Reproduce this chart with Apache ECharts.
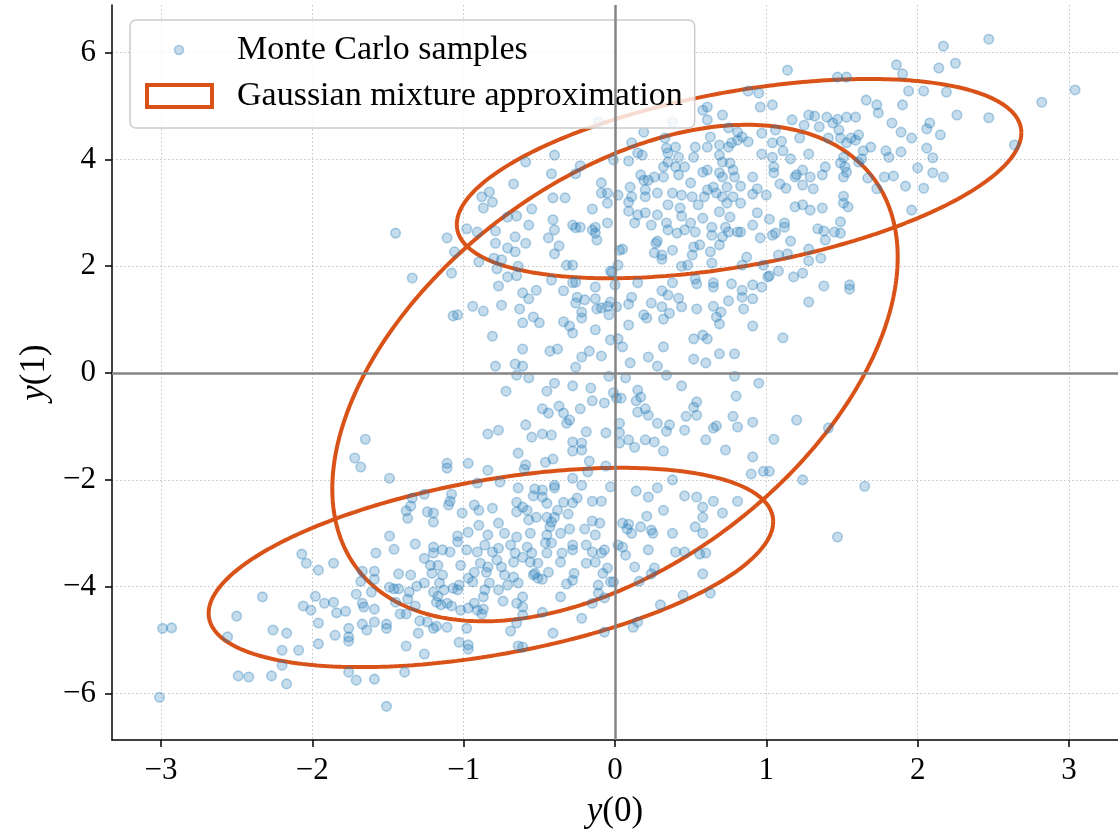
<!DOCTYPE html>
<html>
<head>
<meta charset="utf-8">
<script src="https://cdn.jsdelivr.net/npm/echarts@6/dist/echarts.min.js"></script>
<style>
  html, body { margin: 0; padding: 0; background: #ffffff; }
  #chart { width: 1118px; height: 837px; }
</style>
</head>
<body>
<div id="chart"></div>
<script>
// Monte Carlo samples [y(0), y(1)]
const samples = [
  [-3.01,-6.07],[-2.99,-4.78],[-2.93,-4.77],[-2.50,-4.55],[-2.56,-4.94],[-2.33,-4.19],[-2.49,-5.67],[-2.42,-5.69],[-2.27,-5.67],[-2.17,-5.82],
  [-2.26,-4.81],[-2.17,-4.87],[-2.20,-5.19],[-2.09,-5.19],[-2.20,-5.47],[-2.07,-3.39],[-2.04,-3.56],[-2.06,-4.36],[-2.01,-4.44],[-1.98,-4.18],
  [-1.96,-3.69],[-1.86,-3.56],[-1.92,-4.31],[-1.86,-4.29],[-1.84,-4.49],[-1.78,-4.46],[-1.96,-4.68],[-1.96,-5.07],[-1.85,-4.91],[-1.76,-4.78],
  [-1.76,-4.94],[-1.76,-5.02],[-1.76,-5.60],[-1.71,-5.75],[-1.59,-5.73],[-1.51,-6.24],[-1.39,-5.60],[-1.26,-5.26],[-1.38,-5.11],[-1.30,-4.87],
  [-1.67,-4.70],[-1.64,-4.81],[-1.59,-4.66],[-1.51,-4.70],[-1.51,-4.78],[-1.67,-4.31],[-1.66,-4.38],[-1.59,-4.42],[-1.71,-4.14],[-1.61,-4.10],
  [-1.68,-3.90],[-1.67,-3.71],[-1.59,-3.71],[-1.59,-3.86],[-1.58,-3.37],[-1.46,-3.30],[-1.32,-3.20],[-1.43,-3.76],[-1.35,-3.78],[-1.49,-4.01],
  [-1.46,-4.04],[-1.43,-4.04],[-1.36,-4.10],[-1.37,-4.23],[-1.45,-4.29],[-1.42,-4.51],[-1.38,-4.51],[-1.32,-4.36],[-1.31,-3.99],[-1.26,-3.93],
  [-1.29,-4.64],[-1.24,-4.66],[-1.20,-4.78],[-1.26,-3.47],[-1.22,-3.60],[-1.20,-3.26],[-1.20,-3.37],[-1.21,-3.75],[-1.17,-3.60],[-1.14,-3.78],
  [-1.16,-3.93],[-1.20,-4.10],[-1.17,-4.18],[-1.15,-4.34],[-1.18,-4.29],[-1.11,-4.31],[-1.08,-4.36],[-1.13,-4.06],[-1.07,-4.03],[-1.11,-4.76],
  [-1.18,-4.74],[-1.14,-3.31],[-1.09,-3.35],
  [-1.04,-3.16],[-0.98,-3.31],[-1.02,-3.60],[-0.97,-3.84],[-0.94,-3.91],[-1.03,-3.97],[-1.04,-4.06],[-0.93,-3.73],[-0.89,-3.56],[-0.91,-3.35],
  [-0.86,-3.22],[-0.81,-3.35],[-0.84,-3.63],[-0.85,-3.73],[-0.83,-3.93],[-0.86,-4.06],[-0.87,-4.19],[-0.93,-4.31],[-0.97,-4.40],[-1.02,-4.44],
  [-0.91,-4.44],[-0.87,-4.42],[-0.88,-4.51],[-0.98,-4.78],[-1.03,-5.04],[-0.97,-5.09],[-0.97,-5.17],[-0.77,-4.06],[-0.74,-4.27],[-0.77,-3.28],
  [-0.78,-3.50],[-0.75,-3.63],[-0.73,-3.78],[-0.71,-3.97],[-0.67,-3.82],[-0.64,-3.93],[-0.69,-3.22],[-0.66,-3.37],[-0.67,-3.54],[-0.61,-3.45],
  [-0.58,-3.26],[-0.55,-3.37],[-0.56,-3.54],[-0.51,-3.56],[-0.53,-3.75],[-0.54,-3.78],[-0.51,-3.84],[-0.48,-3.86],[-0.61,-4.19],[-0.65,-4.31],
  [-0.61,-4.38],[-0.61,-4.53],[-0.65,-4.68],[-0.69,-4.83],[-0.64,-5.11],[-0.61,-5.13],[-0.48,-4.48],[-0.41,-4.87],[-0.44,-3.73],[-0.45,-3.37],
  [-0.42,-3.18],[-0.46,-3.18],[-0.36,-3.54],[-0.35,-3.37],[-0.36,-4.19],[-0.32,-3.95],[-0.28,-3.88],[-0.27,-3.75],[-0.28,-3.22],[-0.28,-3.31],
  [-0.22,-4.59],[-0.19,-3.56],[-0.19,-3.22],[-0.15,-3.35],[-0.13,-3.54],[-0.09,-3.37],[-0.07,-3.31],[-0.08,-3.75],[-0.05,-3.65],[-0.11,-3.97],
  [-0.11,-4.12],[-0.15,-4.31],[-0.07,-4.21],[-0.03,-3.91],[-0.01,-3.91],[-0.07,-4.85],[0.05,-3.26],[0.07,-3.41],[0.02,-3.22],[0.22,-3.31],
  [0.13,-3.63],[0.16,-3.90],[0.26,-3.65],[0.24,-3.76],[0.30,-4.34],[0.15,-4.66],[0.12,-4.76],[0.40,-3.35],[0.46,-3.35],[0.45,-4.16],
  [0.56,-3.39],[0.60,-3.37],[0.58,-3.76],[0.63,-4.12],
  [-0.65,-0.04],[-0.57,-0.09],[-0.40,-0.19],[-0.28,-0.24],[-0.72,-0.34],[-0.45,-0.34],[-0.16,-0.28],[-0.04,-0.06],[0.07,-0.09],[-0.15,-0.52],
  [-0.07,-0.56],[-0.01,-0.37],[0.01,-0.47],[0.04,-0.47],[0.15,-0.32],[0.17,-0.45],[0.14,-0.52],[0.34,-0.04],[0.44,-0.24],[0.79,-0.06],
  [0.95,-0.19],[0.80,-0.43],[0.54,-0.54],[0.52,-0.64],[0.54,-0.79],[0.47,-0.81],[0.78,-0.81],[0.91,-0.92],[0.81,-1.01],[0.67,-0.99],
  [0.65,-1.03],[0.60,-1.25],[0.73,-1.44],[0.91,-1.57],[0.98,-1.84],[0.90,-1.89],[0.46,-1.07],[0.34,-1.09],[0.36,-0.97],[0.28,-0.94],
  [0.15,-0.73],[0.20,-0.67],[0.22,-0.79],[0.26,-1.29],[0.32,-1.46],[0.20,-1.25],[0.13,-1.39],[0.09,-1.25],[0.03,-0.94],[0.03,-1.12],
  [0.03,-1.31],[-0.06,-1.12],[-0.19,-1.10],[-0.22,-1.44],[-0.28,-1.29],[-0.22,-1.31],[-0.28,-1.46],[-0.17,-1.65],[-0.41,-1.61],[-0.46,-1.67],
  [-0.42,-1.16],[-0.48,-1.14],[-0.55,-1.20],[-0.59,-0.97],[-0.64,-1.50],[-0.59,-1.72],[-0.60,-1.80],[-0.84,-1.14],[-0.77,-1.07],[-0.97,-1.69],
  [-0.84,-1.82],[-0.76,-2.04],[-0.91,-2.06],[-0.48,-0.67],[-0.44,-0.75],[-0.37,-0.62],[-0.34,-0.75],[-0.32,-0.94],[-0.30,-0.88],[-0.23,-0.67],
  [-0.06,-1.74],[-0.18,-1.85],[-0.28,-1.97],[-0.40,-2.10],[-0.22,-2.10],[-0.03,-2.13],[0.14,-2.21],[0.22,-2.32],[0.28,-2.15],[0.38,-2.00],
  [0.46,-2.30],[0.54,-2.32],[0.58,-2.51],[0.58,-2.70],[0.65,-2.40],[0.71,-2.62],[0.81,-2.40],[0.32,-2.57],[0.21,-2.68],[0.17,-2.88],
  [0.09,-2.83],[0.05,-2.81],[0.08,-2.92],[0.11,-3.00],[0.24,-2.94],[0.25,-3.00],[0.38,-3.00],[0.53,-2.88],[0.58,-3.00],[-0.10,-2.81],
  [-0.15,-2.77],[-0.20,-2.92],[-0.13,-3.03],[-0.09,-2.40],[-0.15,-2.40],[-0.25,-2.34],[-0.28,-2.43],[-0.31,-2.64],[-0.34,-2.42],[-0.40,-2.70],
  [-0.42,-2.79],[-0.43,-2.88],[-0.45,-3.03],[-0.36,-3.00],[-0.30,-2.92],[-0.38,-2.57],[-0.45,-2.70],[-0.45,-2.44],[-0.48,-2.32],[-0.54,-2.30],
  [-0.53,-2.17],[-0.48,-2.19],[-0.40,-2.15],[-0.52,-2.70],[-0.57,-2.75],[-0.58,-2.57],[-0.61,-2.51],[-0.65,-2.42],[-0.65,-2.60],[-0.64,-2.15],
  [-0.77,-2.81],[-0.81,-2.53],[-0.90,-2.57],[-0.93,-2.47],[-0.90,-2.85],[-1.01,-2.62],[-0.97,-2.98],[-0.84,-3.03],[-0.73,-3.00],[-0.65,-3.07],
  [-0.56,-3.00],[-1.04,-3.05],
  [-1.65,-1.24],[-1.72,-1.59],[-1.68,-1.76],[-1.49,-1.97],[-1.11,-1.69],[-1.11,-1.78],[-1.26,-2.27],[-1.35,-2.49],[-1.38,-2.58],[-1.37,-2.72],
  [-1.24,-2.60],[-1.20,-2.62],[-1.20,-2.79],[-1.08,-2.27],[-1.09,-2.40],[-1.10,-2.47],[-1.49,-3.05],[-1.34,-2.34],
  [1.20,-0.88],[1.05,-1.24],[1.41,-1.03],[1.02,-1.84],[1.24,-2.00],[1.65,-2.12],[1.47,-3.07],
  [-0.87,3.09],[-0.81,3.20],[-0.55,3.07],[-0.65,2.94],[-0.71,2.92],[-0.98,2.70],[-0.91,2.64],[-0.79,2.66],[-0.79,2.43],[-0.71,2.34],
  [-0.66,2.27],[-0.59,2.43],[-0.57,2.77],[-0.66,2.55],[-0.90,2.08],[-0.80,2.15],[-0.75,2.12],[-0.64,2.00],[-0.78,1.95],[-0.71,1.80],
  [-0.65,1.82],[-0.77,1.63],[-0.61,1.50],[-0.57,1.39],[-0.52,1.55],[-0.94,1.25],[-0.87,1.16],[-0.75,1.27],[-1.04,1.09],[-0.63,1.20],
  [-0.54,1.05],[-0.61,0.94],[-0.50,0.94],[-0.81,0.69],[-0.61,0.45],[-0.79,0.13],[-0.66,0.17],[-0.61,0.13],[-0.43,0.41],[-0.38,0.45],
  [-0.34,0.96],[-0.30,0.88],[-0.28,0.75],[-0.22,0.30],[-0.17,0.41],[-0.09,0.32],[-0.26,0.11],[-0.13,0.81],[-0.22,1.03],[-0.22,1.14],
  [-0.26,1.31],[-0.25,1.42],[-0.20,1.37],[-0.13,1.39],[-0.12,1.20],[-0.09,1.22],[-0.05,1.25],[-0.04,1.09],[-0.03,1.33],[-0.03,0.62],
  [0.02,0.64],[0.05,0.49],[0.10,0.19],[0.09,0.90],[0.01,1.24],[0.09,1.29],[0.11,1.42],[0.19,1.09],[0.21,1.03],[0.24,1.31],
  [0.31,1.24],[0.36,1.12],[0.32,1.01],[0.42,1.40],[0.44,1.24],[0.32,0.49],[0.22,0.30],[0.28,0.13],[0.54,1.20],[0.65,1.25],
  [0.70,1.14],[0.67,1.05],[0.69,0.92],[0.75,1.35],[0.84,1.42],[0.85,1.20],[0.91,1.39],[0.91,0.88],[0.58,0.71],[0.52,0.64],
  [0.61,0.64],[0.69,0.36],[0.79,0.36],[0.52,0.26],[0.60,0.19],[0.38,1.69],[0.31,1.54],[0.35,1.46],[0.15,1.69],[-0.02,1.89],
  [0.00,1.65],[0.54,1.67],[0.53,1.76],[0.65,1.61],[0.65,1.69],[0.77,1.67],[0.84,1.55],[0.91,1.65],[1.01,1.80],[0.97,1.61],
  [0.03,2.30],[0.02,2.02],[-0.03,1.91],[-0.28,1.69],[-0.42,1.74],[-0.34,1.54],[-0.26,1.70],[-0.13,1.61],[-0.32,2.02],[-0.28,2.02],
  [-0.40,2.23],[-0.37,2.38],[-0.44,2.53],[-0.40,2.68],[-0.41,2.87],[-0.28,2.77],[-0.26,2.72],[-0.23,2.73],[-0.15,2.68],[-0.13,2.73],
  [-0.12,2.49],[-0.13,2.62],[-0.15,3.07],[-0.05,2.81],[-0.05,3.18],[0.05,2.32],[0.09,3.03],[0.09,3.20],[0.13,2.81],[0.15,2.96],
  [0.20,3.00],[0.24,2.77],[0.28,2.96],[0.27,2.43],[0.28,2.47],[0.26,2.25],[0.31,2.21],[0.31,2.13],[0.34,2.81],[0.35,2.68],
  [0.38,2.30],[0.41,2.62],[0.44,2.94],[0.43,3.09],[0.35,3.15],[0.50,2.81],[0.46,2.68],[0.53,2.64],[0.52,2.36],[0.56,2.40],
  [0.51,2.21],[0.44,2.00],[0.48,2.02],[0.58,2.90],[0.55,3.15],[0.64,2.73],[0.64,2.58],[0.63,2.27],[0.69,2.40],[0.64,2.06],
  [0.71,2.55],[0.73,2.73],[0.75,2.64],[0.81,2.64],[0.83,2.64],[0.76,2.92],[0.69,3.02],[0.83,3.18],[0.74,3.18],[0.91,2.77],
  [0.94,3.00],[0.96,2.53],[0.87,2.17],[0.84,2.02],[0.98,2.02],
  [1.19,3.11],[1.24,3.15],[1.29,3.05],[1.37,3.09],[1.51,3.18],[1.54,3.11],[1.96,3.05],[1.12,2.81],[1.12,2.73],[1.06,2.62],
  [1.04,2.58],[1.34,2.70],[1.38,2.66],[1.45,2.64],[1.49,2.62],[1.49,2.83],[1.16,2.47],[1.39,2.49],[1.28,2.32],[1.08,2.21],
  [1.14,2.23],[1.28,2.10],[1.36,2.15],[1.08,1.91],[1.02,1.82],[1.18,1.80],[1.24,1.87],[1.38,1.63],[1.55,1.65],[1.55,1.57],
  [1.28,1.33],[1.11,0.66],[1.02,2.88],
  [-1.45,2.62],[-1.34,1.78],[-1.11,2.53],[-1.06,2.27],[-1.08,1.87],[-1.07,1.07],
  [0.38,4.70],[0.19,4.51],[-0.11,4.70],[-0.40,4.08],[-0.59,3.95],[-0.67,3.54],[-0.83,3.39],[-0.88,3.30],[-0.42,3.73],[-0.26,3.73],
  [-0.23,3.88],[-0.09,3.56],[-0.05,3.37],[-0.01,3.99],[0.09,3.97],[0.15,4.12],[0.18,4.08],[0.11,4.31],[0.02,3.33],[0.10,3.48],
  [0.11,3.30],[0.20,3.30],[0.17,3.71],[0.19,3.61],[0.22,3.61],[0.26,3.67],[0.32,3.67],[0.34,4.21],[0.33,4.40],[0.35,4.12],
  [0.40,4.23],[0.42,4.04],[0.35,3.95],[0.32,3.86],[0.40,3.86],[0.42,3.71],[0.46,3.86],[0.52,4.04],[0.53,4.23],[0.50,3.56],
  [0.58,3.76],[0.61,3.80],[0.61,4.23],[0.69,4.27],[0.75,4.23],[0.77,4.31],[0.81,4.36],[0.84,4.42],[0.88,4.33],[0.69,4.08],
  [0.71,3.95],[0.76,3.93],[0.78,3.80],[0.79,3.67],[0.71,3.67],[0.69,3.75],[0.65,3.48],[0.61,3.43],[0.67,3.37],[0.74,3.48],
  [0.83,3.50],[0.91,3.67],[0.97,4.10],[0.97,4.49],[0.96,4.98],[0.95,5.24],[0.88,5.28],[0.58,4.92],[0.61,4.98],[0.61,4.74],
  [0.71,4.83],[0.75,4.59],[0.63,4.42],[0.81,4.51],[0.20,3.43],[0.28,3.37],[0.38,3.37],[0.44,3.33],[0.51,3.30],[0.59,3.30],
  [0.71,3.30],[0.78,3.30],[0.91,3.35],[0.94,3.45],[1.00,3.33],[-0.09,3.37],[-0.41,3.28],[-0.33,3.28],
  [2.47,6.25],[2.17,6.12],[2.25,5.80],[2.14,5.71],[1.86,5.77],[1.90,5.60],[1.14,5.67],[1.47,5.54],[1.53,5.54],[1.94,5.28],
  [2.04,5.28],[2.19,5.26],[3.04,5.30],[2.82,5.07],[2.47,4.78],[2.26,4.83],[2.64,4.27],[1.66,5.11],[1.73,5.02],[1.74,4.87],
  [1.90,5.02],[1.83,4.68],[1.89,4.51],[1.96,4.40],[2.06,4.57],[2.08,4.68],[2.15,4.46],[2.06,4.21],[2.10,4.03],[2.00,3.84],
  [2.10,3.75],[2.17,3.67],[2.04,3.46],[1.92,3.50],[1.79,4.16],[1.81,4.04],[1.89,4.14],[1.78,3.67],[1.84,3.69],[1.67,3.65],
  [1.73,3.45],[1.69,4.23],[1.64,4.16],[1.61,3.95],[1.53,3.76],[1.51,3.67],[1.51,3.31],[1.31,3.45],[1.29,3.67],[1.24,3.52],
  [1.20,3.71],[1.24,3.80],[1.39,3.86],[1.37,3.71],[1.49,3.93],[1.51,4.04],[1.52,3.86],[1.53,4.31],[1.59,4.36],[1.61,4.46],
  [1.56,4.40],[1.48,4.55],[1.49,4.40],[1.41,4.40],[1.35,4.61],[1.44,4.68],[1.53,4.79],[1.59,4.79],[1.47,4.75],[1.40,4.79],
  [1.32,4.81],[1.28,4.83],[1.25,4.64],[1.22,4.40],[1.17,4.74],[1.06,4.55],[1.10,4.34],[1.11,4.16],[1.04,4.31],[1.04,4.04],
  [1.16,4.01],[1.05,3.86],[1.05,3.75],[1.09,3.54],[1.13,3.46],[1.19,3.67],[1.28,4.10],[1.04,5.02],[1.63,4.01]
];

// Gaussian mixture components: means and covariances, drawn as 2-sigma ellipses
const mixtureMeans = [[0.82, 3.64], [0.0, 0.0], [-0.82, -3.64]];
const mixtureCovs = [
  [[0.870, 0.400], [0.400, 0.870]],
  [[0.8725, 1.0125], [1.0125, 5.40]],
  [[0.870, 0.400], [0.400, 0.870]]
];
const ellipseSigma = 2;

// Axis ticks and ranges
const xTicks = [-3, -2, -1, 0, 1, 2, 3];
const yTicks = [-6, -4, -2, 0, 2, 4, 6];
const xRange = [-3.324, 3.324];
const yRange = [-6.87, 6.89];

const serif = '"Liberation Serif", "Times New Roman", Times, serif';
const ORANGE = '#D95319';
const DOT_FILL = 'rgba(31,119,180,0.32)';
const DOT_EDGE = 'rgba(31,119,180,0.42)';

// Outline of the k-sigma ellipse of a 2D Gaussian (Cholesky parametrisation)
function ellipseOutline(mean, cov, k, n) {
  const a = Math.sqrt(cov[0][0]) * k;
  const b = cov[0][1] * k * k / a;
  const d = Math.sqrt(cov[1][1] * k * k - b * b);
  const pts = [];
  for (let i = 0; i <= n; i++) {
    const t = 2 * Math.PI * i / n;
    pts.push([mean[0] + a * Math.cos(t), mean[1] + b * Math.cos(t) + d * Math.sin(t)]);
  }
  return pts;
}

const fmtTick = v => (v < 0 ? '\u2212' + Math.abs(v) : String(v));

const ellipseSeries = mixtureMeans.map((m, i) => ({
  name: 'Gaussian mixture approximation',
  type: 'line',
  data: ellipseOutline(m, mixtureCovs[i], ellipseSigma, 360),
  showSymbol: false,
  symbol: 'none',
  smooth: false,
  lineStyle: { color: ORANGE, width: 4 },
  itemStyle: { color: ORANGE },
  z: 2,
  silent: true
}));

const chart = echarts.init(document.getElementById('chart'), null, { renderer: 'canvas' });

chart.setOption({
  animation: false,
  backgroundColor: '#ffffff',
  grid: { left: 112, right: 0, top: 5, bottom: 97 },
  xAxis: {
    type: 'value',
    min: xRange[0],
    max: xRange[1],
    axisLine: { show: true, onZero: false, lineStyle: { color: '#000', width: 1.5 } },
    axisTick: { show: true, customValues: xTicks, length: 7, lineStyle: { color: '#000', width: 1.5 } },
    axisLabel: { customValues: xTicks, formatter: fmtTick, fontFamily: serif, fontSize: 31, color: '#000', margin: 15 },
    splitLine: { show: true, lineStyle: { color: '#c4c4c4', width: 1, type: [1.5, 2.5] } },
    name: '{it|y}(0)',
    nameLocation: 'middle',
    nameGap: 54,
    nameTextStyle: {
      fontFamily: serif, fontSize: 35, color: '#000',
      rich: { it: { fontFamily: serif, fontSize: 35, fontStyle: 'italic', color: '#000' } }
    }
  },
  yAxis: {
    type: 'value',
    min: yRange[0],
    max: yRange[1],
    axisLine: { show: true, onZero: false, lineStyle: { color: '#000', width: 1.5 } },
    axisTick: { show: true, customValues: yTicks, length: 7, lineStyle: { color: '#000', width: 1.5 } },
    axisLabel: { customValues: yTicks, formatter: fmtTick, fontFamily: serif, fontSize: 31, color: '#000', margin: 16 },
    splitLine: { show: true, lineStyle: { color: '#c4c4c4', width: 1, type: [1.5, 2.5] } },
    name: '{it|y}(1)',
    nameLocation: 'middle',
    nameGap: 52,
    nameTextStyle: {
      fontFamily: serif, fontSize: 35, color: '#000',
      rich: { it: { fontFamily: serif, fontSize: 35, fontStyle: 'italic', color: '#000' } }
    }
  },
  legend: {
    left: 130,
    top: 20,
    orient: 'vertical',
    selectedMode: false,
    padding: [13, 12, 15, 13],
    itemGap: 12,
    itemWidth: 87,
    itemHeight: 26,
    backgroundColor: 'rgba(255,255,255,0.8)',
    borderColor: '#cccccc',
    borderWidth: 1.5,
    borderRadius: 6,
    textStyle: { fontFamily: serif, fontSize: 34, color: '#000', lineHeight: 30 },
    data: [
      {
        name: 'Monte Carlo samples',
        icon: 'path://M0 0M87 26M29.5 13a4.5 4.5 0 1 0 9 0a4.5 4.5 0 1 0 -9 0z',
        itemStyle: { color: DOT_FILL, borderColor: DOT_EDGE, borderWidth: 1.6 }
      },
      {
        name: 'Gaussian mixture approximation',
        icon: 'path://M0 0M87 26M2 2h65v22h-65z',
        itemStyle: { color: '#ffffff', borderColor: ORANGE, borderWidth: 4 }
      }
    ]
  },
  series: [
    ...ellipseSeries,
    {
      name: 'Monte Carlo samples',
      type: 'scatter',
      data: samples,
      symbol: 'circle',
      symbolSize: 9.5,
      itemStyle: { color: DOT_FILL, borderColor: DOT_EDGE, borderWidth: 1.6 },
      progressive: 0,
      large: false,
      z: 3,
      silent: true
    },
    {
      // zero reference lines
      name: 'axes-zero',
      type: 'line',
      data: [],
      z: 4,
      silent: true,
      markLine: {
        silent: true,
        symbol: ['none', 'none'],
        label: { show: false },
        lineStyle: { color: '#858585', width: 2.5, type: 'solid' },
        data: [{ xAxis: 0 }, { yAxis: 0 }]
      }
    }
  ]
});
</script>
</body>
</html>
